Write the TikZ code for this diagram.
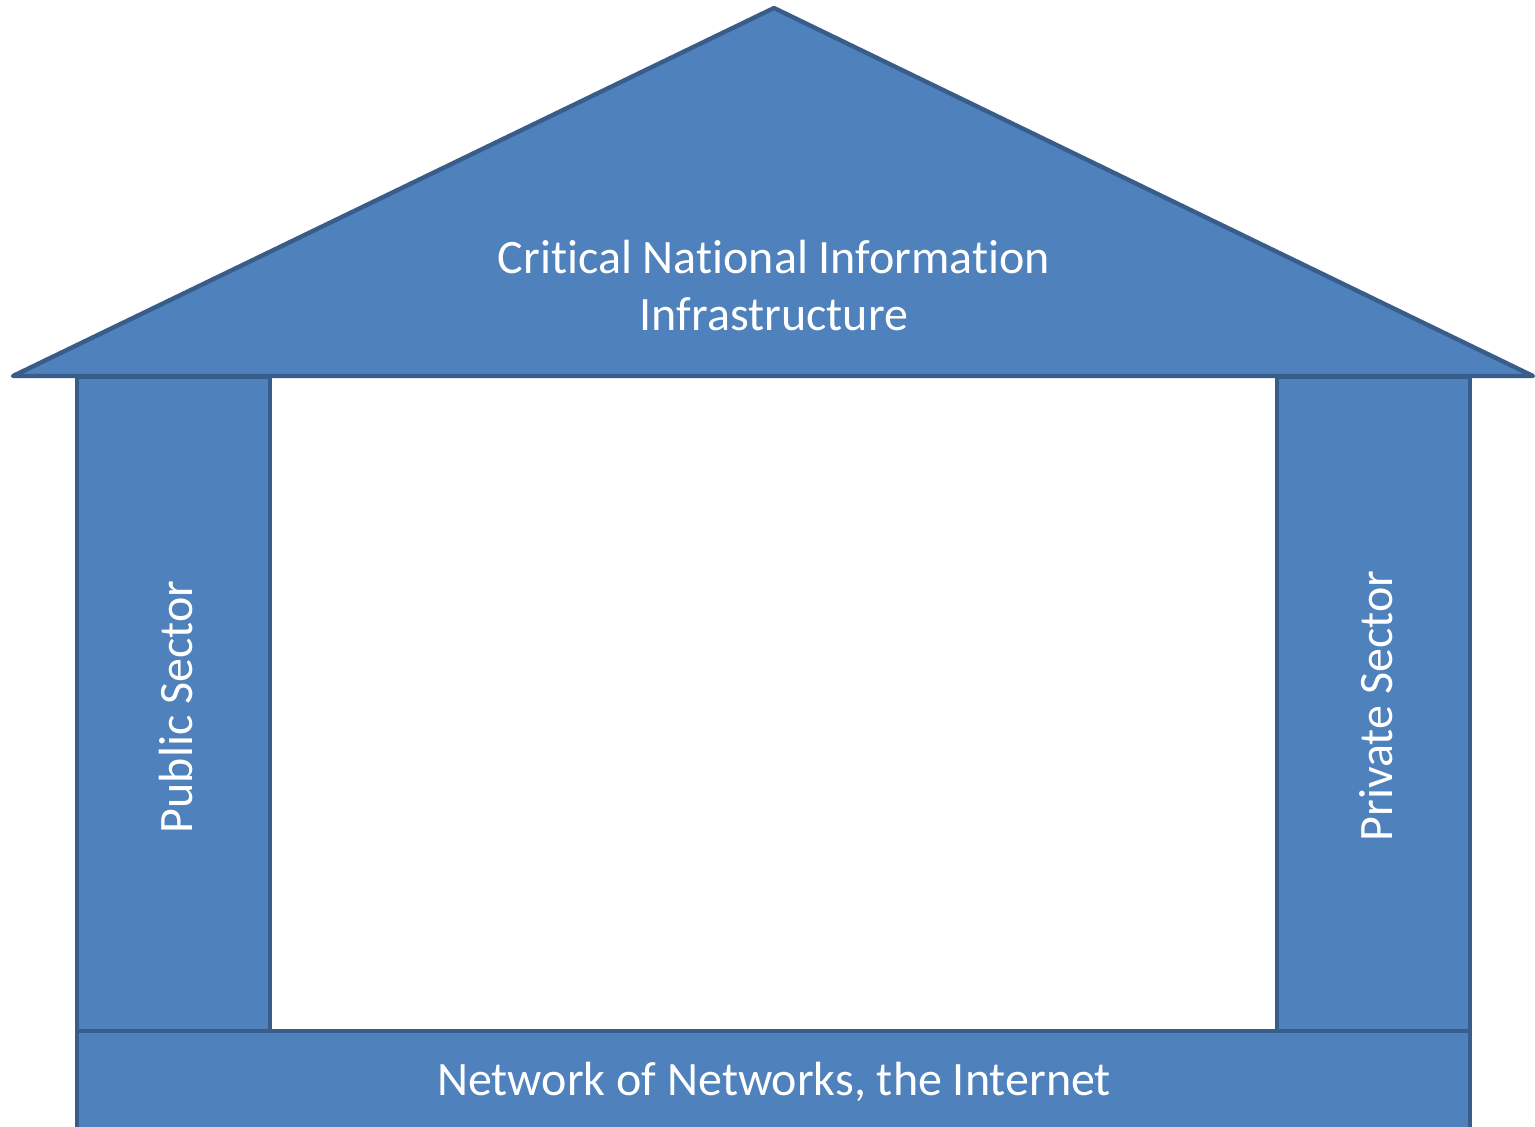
\documentclass[tikz,border=0pt]{standalone}
\usepackage{fontspec}
\setmainfont[Ligatures={NoCommon}]{Carlito}
\definecolor{fillblue}{HTML}{4F81BD}
\definecolor{edgeblue}{HTML}{385D8A}
\begin{document}
\begin{tikzpicture}[x=0.5pt,y=-0.5pt,
  part/.style={fill=fillblue,draw=edgeblue,line width=2.2pt,line join=round},
  label/.style={text=white,font=\fontsize{24}{28.5}\selectfont,align=center,inner sep=0pt}]
\useasboundingbox (0,0) rectangle (1535,1126);
\clip (0,0) rectangle (1535,1126);
\draw[part] (77,377) rectangle (270,1031);
\draw[part] (1277,377) rectangle (1470,1031);
\draw[part] (77,1031) rectangle (1470,1145);
\draw[part] (774,8) -- (1533,376) -- (13,376) -- cycle;
\node[label] (roof) at (774,286) {Critical National Information\\Infrastructure};
\node[label,rotate=90] (pub) at (176,707) {Public Sector};
\node[label,rotate=90] (priv) at (1376,706) {Private Sector};
\node[label] (net) at (774,1082) {Network of Networks, the Internet};
\end{tikzpicture}
\end{document}
